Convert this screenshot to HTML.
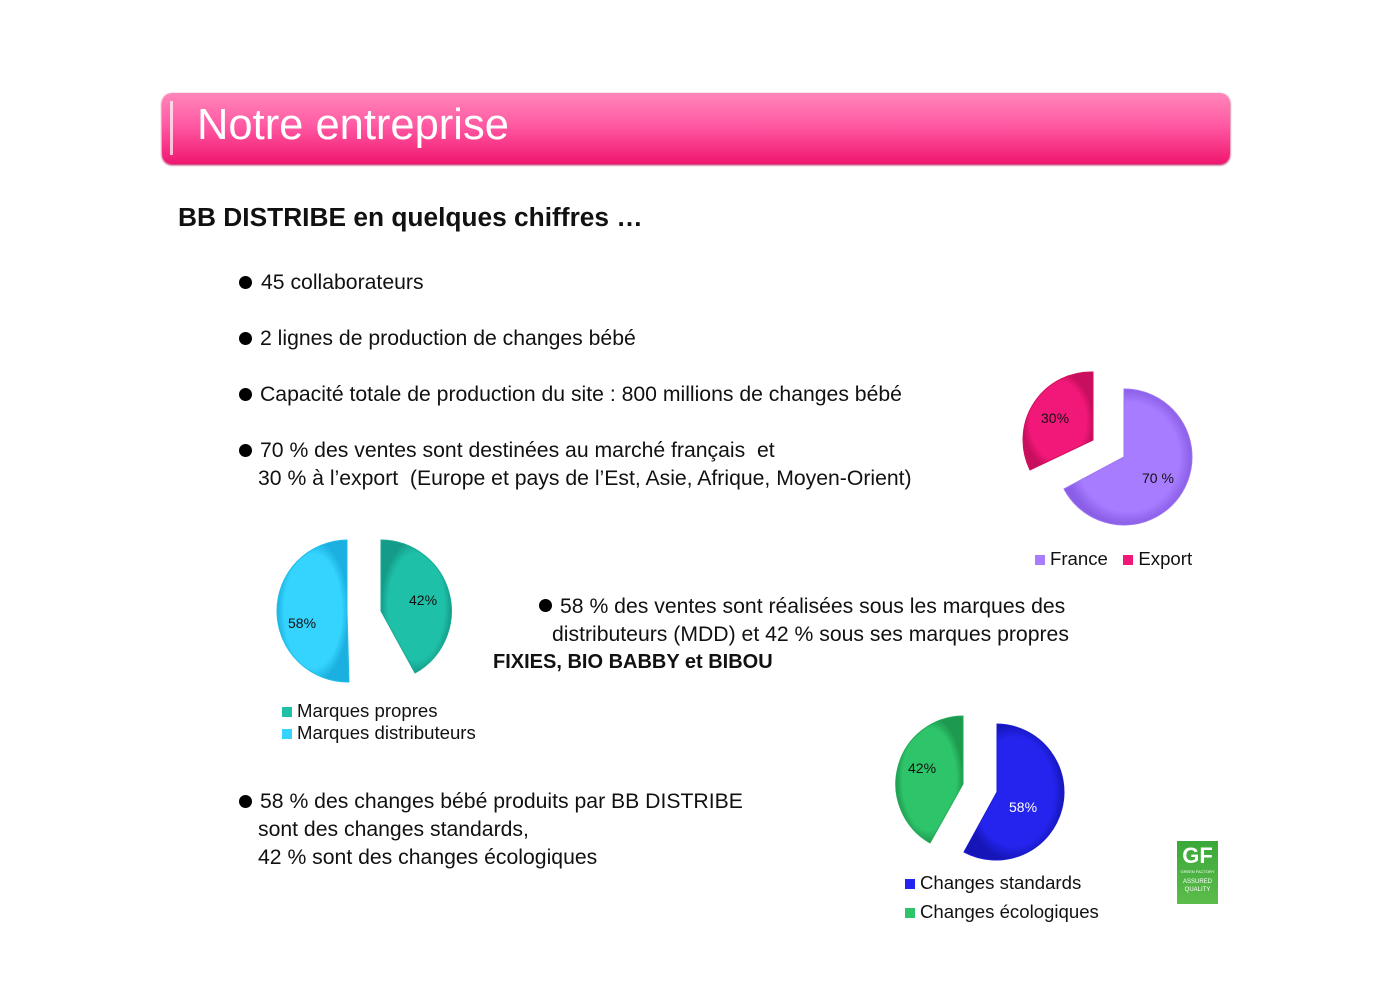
<!DOCTYPE html>
<html><head><meta charset="utf-8"><style>
body{margin:0;width:1400px;height:989px;background:#fff;position:relative;overflow:hidden;font-family:"Liberation Sans",sans-serif;}
.t{position:absolute;font-size:21.2px;color:#111;white-space:nowrap;}
.b{position:absolute;width:13px;height:13px;border-radius:50%;background:#000;}
.lg{position:absolute;font-size:18.6px;color:#111;white-space:nowrap;}
.sq{display:inline-block;width:10px;height:10px;margin-right:5px;vertical-align:0px;}
</style></head><body>
<div style="position:absolute;left:162px;top:93px;width:1068px;height:71px;border-radius:10px;background:linear-gradient(#ff86b9 0%,#ff5aa3 45%,#f0166f 100%);box-shadow:0 1px 2px #b00048;"></div>
<div style="position:absolute;left:170px;top:101px;width:3px;height:54px;background:#fff;opacity:.7"></div>
<div style="position:absolute;left:197px;top:101px;font-size:43.5px;color:#fff;">Notre entreprise</div>
<div style="position:absolute;left:178px;top:202px;font-size:26.3px;font-weight:bold;color:#111;">BB DISTRIBE en quelques chiffres …</div>

<div class="b" style="left:239px;top:276px"></div><div class="t" style="left:261px;top:271px">45 collaborateurs</div>
<div class="b" style="left:239px;top:332px"></div><div class="t" style="left:260px;top:327px">2 lignes de production de changes bébé</div>
<div class="b" style="left:239px;top:388px"></div><div class="t" style="left:260px;top:383px">Capacité totale de production du site : 800 millions de changes bébé</div>
<div class="b" style="left:239px;top:444px"></div><div class="t" style="left:260px;top:439px">70 % des ventes sont destinées au marché français&nbsp; et</div>
<div class="t" style="left:258px;top:467px">30 % à l’export&nbsp; (Europe et pays de l’Est, Asie, Afrique, Moyen-Orient)</div>

<div class="b" style="left:539px;top:599px"></div><div class="t" style="left:560px;top:595px">58 % des ventes sont réalisées sous les marques des</div>
<div class="t" style="left:552px;top:623px">distributeurs (MDD) et 42 % sous ses marques propres</div>
<div class="t" style="left:493px;top:651px;font-weight:bold;font-size:20px">FIXIES, BIO BABBY et BIBOU</div>

<div class="b" style="left:239px;top:795px"></div><div class="t" style="left:260px;top:790px">58 % des changes bébé produits par BB DISTRIBE</div>
<div class="t" style="left:258px;top:818px">sont des changes standards,</div>
<div class="t" style="left:258px;top:846px">42 % sont des changes écologiques</div>

<svg width="1400" height="989" style="position:absolute;left:0;top:0" font-family="Liberation Sans, sans-serif" font-size="14">
<defs>
<radialGradient id="gp" cx="50%" cy="50%" r="50%"><stop offset="0.8" stop-color="#a77cff"/><stop offset="1" stop-color="#8a5ee6"/></radialGradient>
<radialGradient id="gr" cx="50%" cy="50%" r="50%"><stop offset="0.8" stop-color="#f2187a"/><stop offset="1" stop-color="#c80f5e"/></radialGradient>
<radialGradient id="gt" cx="50%" cy="50%" r="50%"><stop offset="0.8" stop-color="#1fc0a8"/><stop offset="1" stop-color="#149c88"/></radialGradient>
<radialGradient id="gc" cx="50%" cy="50%" r="50%"><stop offset="0.8" stop-color="#34d4ff"/><stop offset="1" stop-color="#1cb0e0"/></radialGradient>
<radialGradient id="gb" cx="50%" cy="50%" r="50%"><stop offset="0.8" stop-color="#2424ee"/><stop offset="1" stop-color="#1616b8"/></radialGradient>
<radialGradient id="gg" cx="50%" cy="50%" r="50%"><stop offset="0.8" stop-color="#2ec46a"/><stop offset="1" stop-color="#1e9a50"/></radialGradient>
</defs>
<path d="M1124,457 L1124,389 A68,68 0 1 1 1064,489 Z" fill="url(#gp)" stroke="#9d74f0"/>
<path d="M1093,440 L1030,470 A68,68 0 0 1 1093,372 Z" fill="url(#gr)" stroke="#d0105f"/>
<text x="1041" y="423" fill="#111">30%</text><text x="1142" y="483" fill="#111">70 %</text>
<path d="M381,611 L381,540 A71,71 0 0 1 415,673 Z" fill="url(#gt)" stroke="#17a892"/>
<path d="M347,611 L349,682 A71,71 0 0 1 347,540 Z" fill="url(#gc)" stroke="#22bde8"/>
<text x="409" y="605" fill="#111">42%</text><text x="288" y="628" fill="#111">58%</text>
<path d="M997,792 L997,724 A68,68 0 1 1 964,852 Z" fill="url(#gb)" stroke="#1a1ad0"/>
<path d="M963,784 L930,843 A68,68 0 0 1 963,716 Z" fill="url(#gg)" stroke="#22aa58"/>
<text x="908" y="773" fill="#111">42%</text><text x="1009" y="812" fill="#fff">58%</text>
</svg>

<div class="lg" style="left:1035px;top:548px"><span class="sq" style="background:#a77cff"></span>France&nbsp;&nbsp;&nbsp;<span class="sq" style="background:#f2187a"></span>Export</div>
<div class="lg" style="left:282px;top:700px"><span class="sq" style="background:#1fc0a8"></span>Marques propres</div>
<div class="lg" style="left:282px;top:722px"><span class="sq" style="background:#34d4ff"></span>Marques distributeurs</div>
<div class="lg" style="left:905px;top:872px"><span class="sq" style="background:#2424ee"></span>Changes standards</div>
<div class="lg" style="left:905px;top:901px"><span class="sq" style="background:#2ec46a"></span>Changes écologiques</div>

<div style="position:absolute;left:1177px;top:841px;width:41px;height:63px;background:linear-gradient(#3aa83a,#5cbc4a);text-align:center;color:#fff;">
<div style="font-size:22px;font-weight:bold;line-height:26px;margin-top:2px">GF</div>
<div style="font-size:4px;line-height:6px">GREEN FACTORY</div>
<div style="font-size:6px;line-height:8px;margin-top:3px">ASSURED<br>QUALITY</div>
</div>
</body></html>
